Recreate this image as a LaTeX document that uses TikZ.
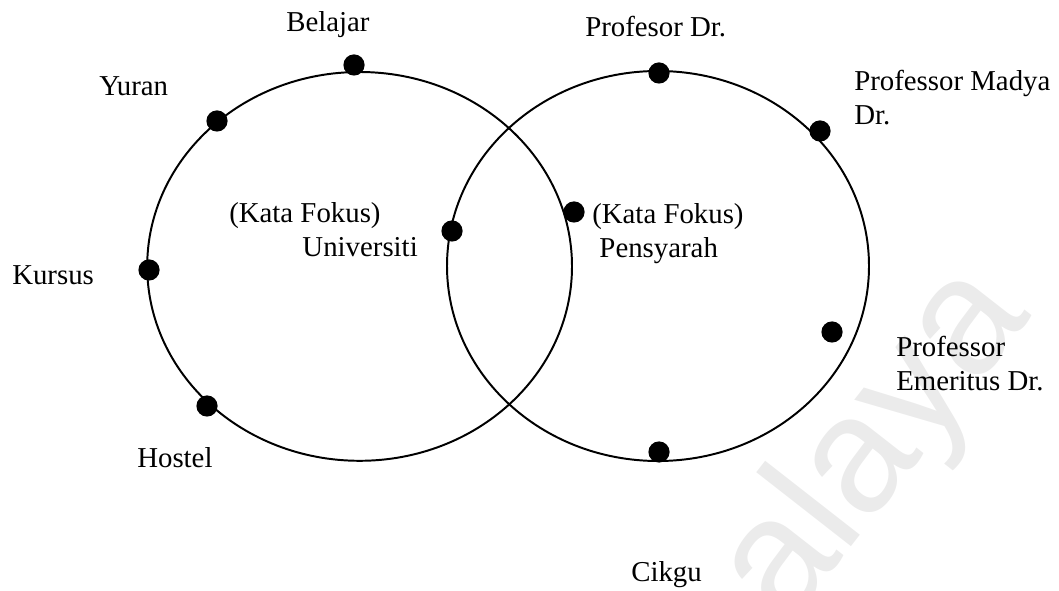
\documentclass[tikz,border=0pt]{standalone}
\usepackage{fontspec}
\setmainfont{Liberation Serif}
\newfontfamily\wmfont{Liberation Sans}

\begin{document}
\begin{tikzpicture}[
	titik/.style={circle, fill=black, inner sep=0pt, minimum size=0.53cm},
	teks/.style={anchor=base west, inner sep=0pt, align=left, font=\fontsize{20.5}{24.6}\selectfont}
	]
		\useasboundingbox (0,0) rectangle (26.475,14.75);
		
		% watermark
		\begin{scope}
		\clip (0,0) rectangle (26.475,14.75);
		\node[rotate=52, text=black!8, font=\wmfont\fontsize{118}{118}\selectfont] (wm) at (21.9,3.6) {alaya};
		\end{scope}
		
		\draw[line width=1.4pt] (8.99,8.09) ellipse (5.31 and 4.86);
		\draw[line width=1.4pt] (16.45,8.1) ellipse (5.275 and 4.875);
		
		\node[titik] (belajar) at (8.85,13.125) {};
		\node[titik] (yuran) at (5.425,11.725) {};
		\node[titik] (kursus) at (3.725,8.0) {};
		\node[titik] (hostel) at (5.175,4.6) {};
		\node[titik] (univ) at (11.3,8.975) {};
		\node[titik] (pensyarah) at (14.35,9.45) {};
		\node[titik] (profdr) at (16.475,12.925) {};
		\node[titik] (madya) at (20.5,11.475) {};
		\node[titik] (emeritus) at (20.8,6.45) {};
		\node[titik] (cikgu) at (16.475,3.45) {};
		
		% base of a two-line label is its last line
		\node[teks] (lbelajar) at (7.15,13.95) {Belajar};
		\node[teks] (lyuran) at (2.475,12.35) {Yuran};
		\node[teks] (lkursus) at (0.3,7.625) {Kursus};
		\node[teks] (lhostel) at (3.425,3.075) {Hostel};
		\node[teks] (luniv) at (5.725,8.325) {(Kata Fokus)\\\hspace*{1.83cm}Universiti};
		\node[teks] (lpensyarah) at (14.8,8.3) {(Kata Fokus)\\\hspace*{0.18cm}Pensyarah};
		\node[teks] (lprofdr) at (14.625,13.825) {Profesor Dr.};
		\node[teks] (lmadya) at (21.35,11.625) {Professor Madya\\Dr.};
		\node[teks] (lemeritus) at (22.4,4.975) {Professor\\Emeritus Dr.};
		\node[teks] (lcikgu) at (15.775,0.225) {Cikgu};
\end{tikzpicture}
\end{document}
